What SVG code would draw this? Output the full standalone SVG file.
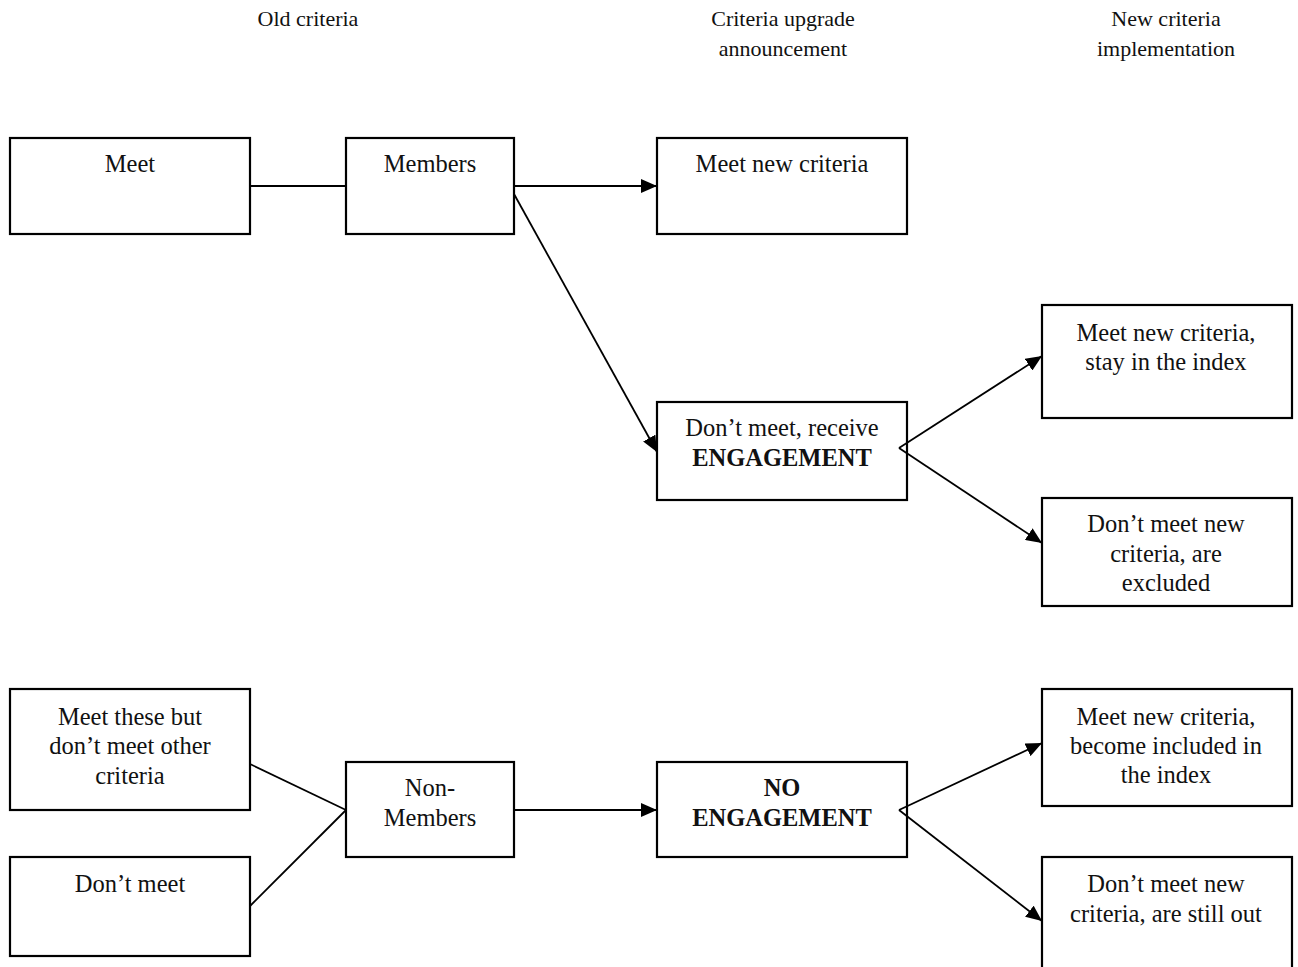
<svg xmlns="http://www.w3.org/2000/svg" width="1298" height="967" viewBox="0 0 1298 967">
<style>
.box{fill:#fff;stroke:#000;stroke-width:2.2}
.t{font-family:"Liberation Serif","Times New Roman",serif;font-size:24.5px;fill:#111;text-anchor:middle}
.h{font-family:"Liberation Serif","Times New Roman",serif;font-size:22px;fill:#111;text-anchor:middle}
.b{font-weight:bold}
.c{stroke:#000;stroke-width:1.8;fill:none}
</style>
<defs>
<marker id="ah" markerUnits="userSpaceOnUse" markerWidth="18" markerHeight="14" refX="16" refY="7" orient="auto">
<path d="M0,0 L16,7 L0,14 Z" fill="#000"/>
</marker>
</defs>
<rect width="1298" height="967" fill="#fff"/>
<g id="headers">
<text class="h" x="308" y="26">Old criteria</text>
<text class="h" x="783" y="26">Criteria upgrade</text>
<text class="h" x="783" y="56">announcement</text>
<text class="h" x="1166" y="26">New criteria</text>
<text class="h" x="1166" y="56">implementation</text>
</g>
<g id="n-meet"><rect class="box" x="10" y="138" width="240" height="96"/><text class="t" x="130" y="172">Meet</text></g>
<g id="n-members"><rect class="box" x="346" y="138" width="168" height="96"/><text class="t" x="430" y="172">Members</text></g>
<g id="n-meetnew"><rect class="box" x="657" y="138" width="250" height="96"/><text class="t" x="782" y="172">Meet new criteria</text></g>
<g id="n-engage"><rect class="box" x="657" y="402" width="250" height="98"/><text class="t" x="782" y="436">Don’t meet, receive</text><text class="t b" x="782" y="466">ENGAGEMENT</text></g>
<g id="n-stay"><rect class="box" x="1042" y="305" width="250" height="113"/><text class="t" x="1166" y="341">Meet new criteria,</text><text class="t" x="1166" y="370">stay in the index</text></g>
<g id="n-excluded"><rect class="box" x="1042" y="498" width="250" height="108"/><text class="t" x="1166" y="532">Don’t meet new</text><text class="t" x="1166" y="562">criteria, are</text><text class="t" x="1166" y="591">excluded</text></g>
<g id="n-meetthese"><rect class="box" x="10" y="689" width="240" height="121"/><text class="t" x="130" y="725">Meet these but</text><text class="t" x="130" y="754">don’t meet other</text><text class="t" x="130" y="784">criteria</text></g>
<g id="n-dontmeet"><rect class="box" x="10" y="857" width="240" height="99"/><text class="t" x="130" y="892">Don’t meet</text></g>
<g id="n-nonmembers"><rect class="box" x="346" y="762" width="168" height="95"/><text class="t" x="430" y="796">Non-</text><text class="t" x="430" y="826">Members</text></g>
<g id="n-noengage"><rect class="box" x="657" y="762" width="250" height="95"/><text class="t b" x="782" y="796">NO</text><text class="t b" x="782" y="826">ENGAGEMENT</text></g>
<g id="n-included"><rect class="box" x="1042" y="689" width="250" height="117"/><text class="t" x="1166" y="725">Meet new criteria,</text><text class="t" x="1166" y="754">become included in</text><text class="t" x="1166" y="783">the index</text></g>
<g id="n-stillout"><rect class="box" x="1042" y="857" width="250" height="120"/><text class="t" x="1166" y="892">Don’t meet new</text><text class="t" x="1166" y="922">criteria, are still out</text></g>
<g id="connectors">
<line class="c" x1="250" y1="186" x2="346" y2="186"/>
<line class="c" x1="514" y1="186" x2="657" y2="186" marker-end="url(#ah)"/>
<line class="c" x1="514" y1="194" x2="657" y2="452" marker-end="url(#ah)"/>
<line class="c" x1="899" y1="448" x2="1042" y2="356" marker-end="url(#ah)"/>
<line class="c" x1="899" y1="448" x2="1042" y2="543" marker-end="url(#ah)"/>
<line class="c" x1="250" y1="764" x2="346" y2="810"/>
<line class="c" x1="250" y1="906" x2="346" y2="810"/>
<line class="c" x1="514" y1="810" x2="657" y2="810" marker-end="url(#ah)"/>
<line class="c" x1="899" y1="810" x2="1042" y2="743" marker-end="url(#ah)"/>
<line class="c" x1="899" y1="810" x2="1042" y2="921" marker-end="url(#ah)"/>
</g>
</svg>
